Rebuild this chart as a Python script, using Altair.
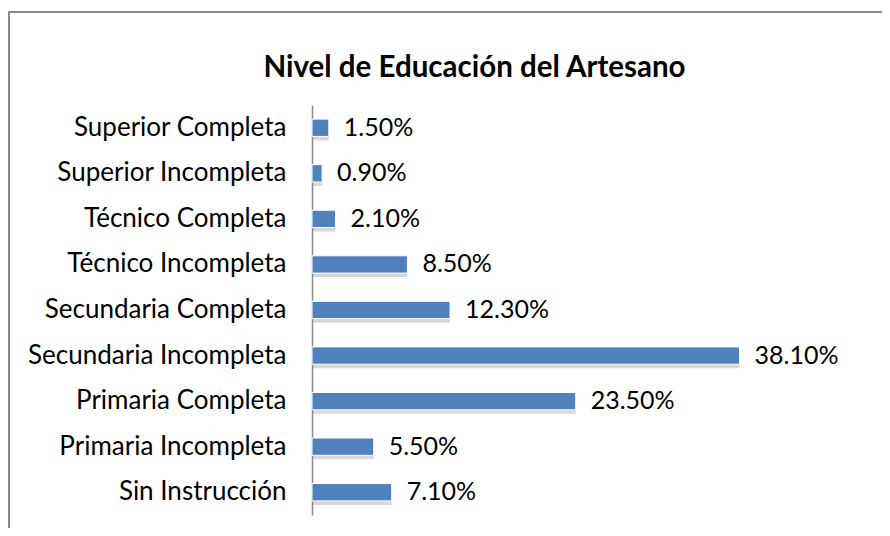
import altair as alt
import pandas as pd

categories = ["Superior Completa", "Superior Incompleta ", "Técnico Completa", "Técnico Incompleta",
              "Secundaria Completa", "Secundaria Incompleta", "Primaria Completa",
              "Primaria Incompleta", "Sin Instrucción"]
values = [1.5, 0.9, 2.1, 8.5, 12.3, 38.1, 23.5, 5.5, 7.1]
labels = ["1.50%", "0.90%", "2.10%", "8.50%", "12.30%", "38.10%", "23.50%", "5.50%", "7.10%"]

df = pd.DataFrame({"cat": categories, "val": values, "lab": labels})

FONT = "Lato"
W, H = 505, 410

y_enc = alt.Y("cat:N", sort=categories, title=None,
              scale=alt.Scale(paddingInner=0.62, paddingOuter=0.31),
              axis=alt.Axis(domainColor="#8c8c8c", domainWidth=1.5, ticks=False, labelPadding=26,
                            labelLimit=400, labelFont=FONT, labelFontSize=26,
                            labelColor="#000000", grid=False))
x_enc = alt.X("val:Q", title=None, scale=alt.Scale(domain=[0, 45]), axis=None)

base = alt.Chart(df)

shadow = base.mark_bar(color="#7f7f7f", opacity=0.3).encode(
    x=x_enc, y=y_enc, yOffset=alt.value(4))
bars = base.mark_bar(color="#4F81BD", stroke="#ffffff", strokeWidth=1).encode(x=x_enc, y=y_enc)
text = base.mark_text(align="left", baseline="middle", dx=15, font=FONT, fontSize=25,
                      color="#000000").encode(x=x_enc, y=y_enc, text="lab:N")

border_left = alt.Chart(pd.DataFrame({"a": [0]})).mark_rule(color="#8a8a8a", strokeWidth=2).encode(
    x=alt.value(-303), y=alt.value(-93), y2=alt.value(440))
border_top = alt.Chart(pd.DataFrame({"a": [0]})).mark_rule(color="#8a8a8a", strokeWidth=2).encode(
    x=alt.value(-304), x2=alt.value(580), y=alt.value(-93))

chart = alt.layer(border_left, border_top, shadow, bars, text).properties(
    width=W, height=H,
    autosize=alt.AutoSizeParams(type="none"),
    padding={"left": 304, "top": 97, "right": 874 - 304 - W, "bottom": 520 - 97 - H},
    title=alt.TitleParams("Nivel de Educación del Artesano", font=FONT, fontSize=29.5,
                          fontWeight="bold", color="#000000", anchor="middle", dx=-90,
                          offset=25, dy=126, baseline="bottom", frame="group"),
).configure(background="#ffffff", view=alt.ViewConfig(stroke=None))

chart.save("out.html", embed_options={"renderer": "svg", "actions": False})
